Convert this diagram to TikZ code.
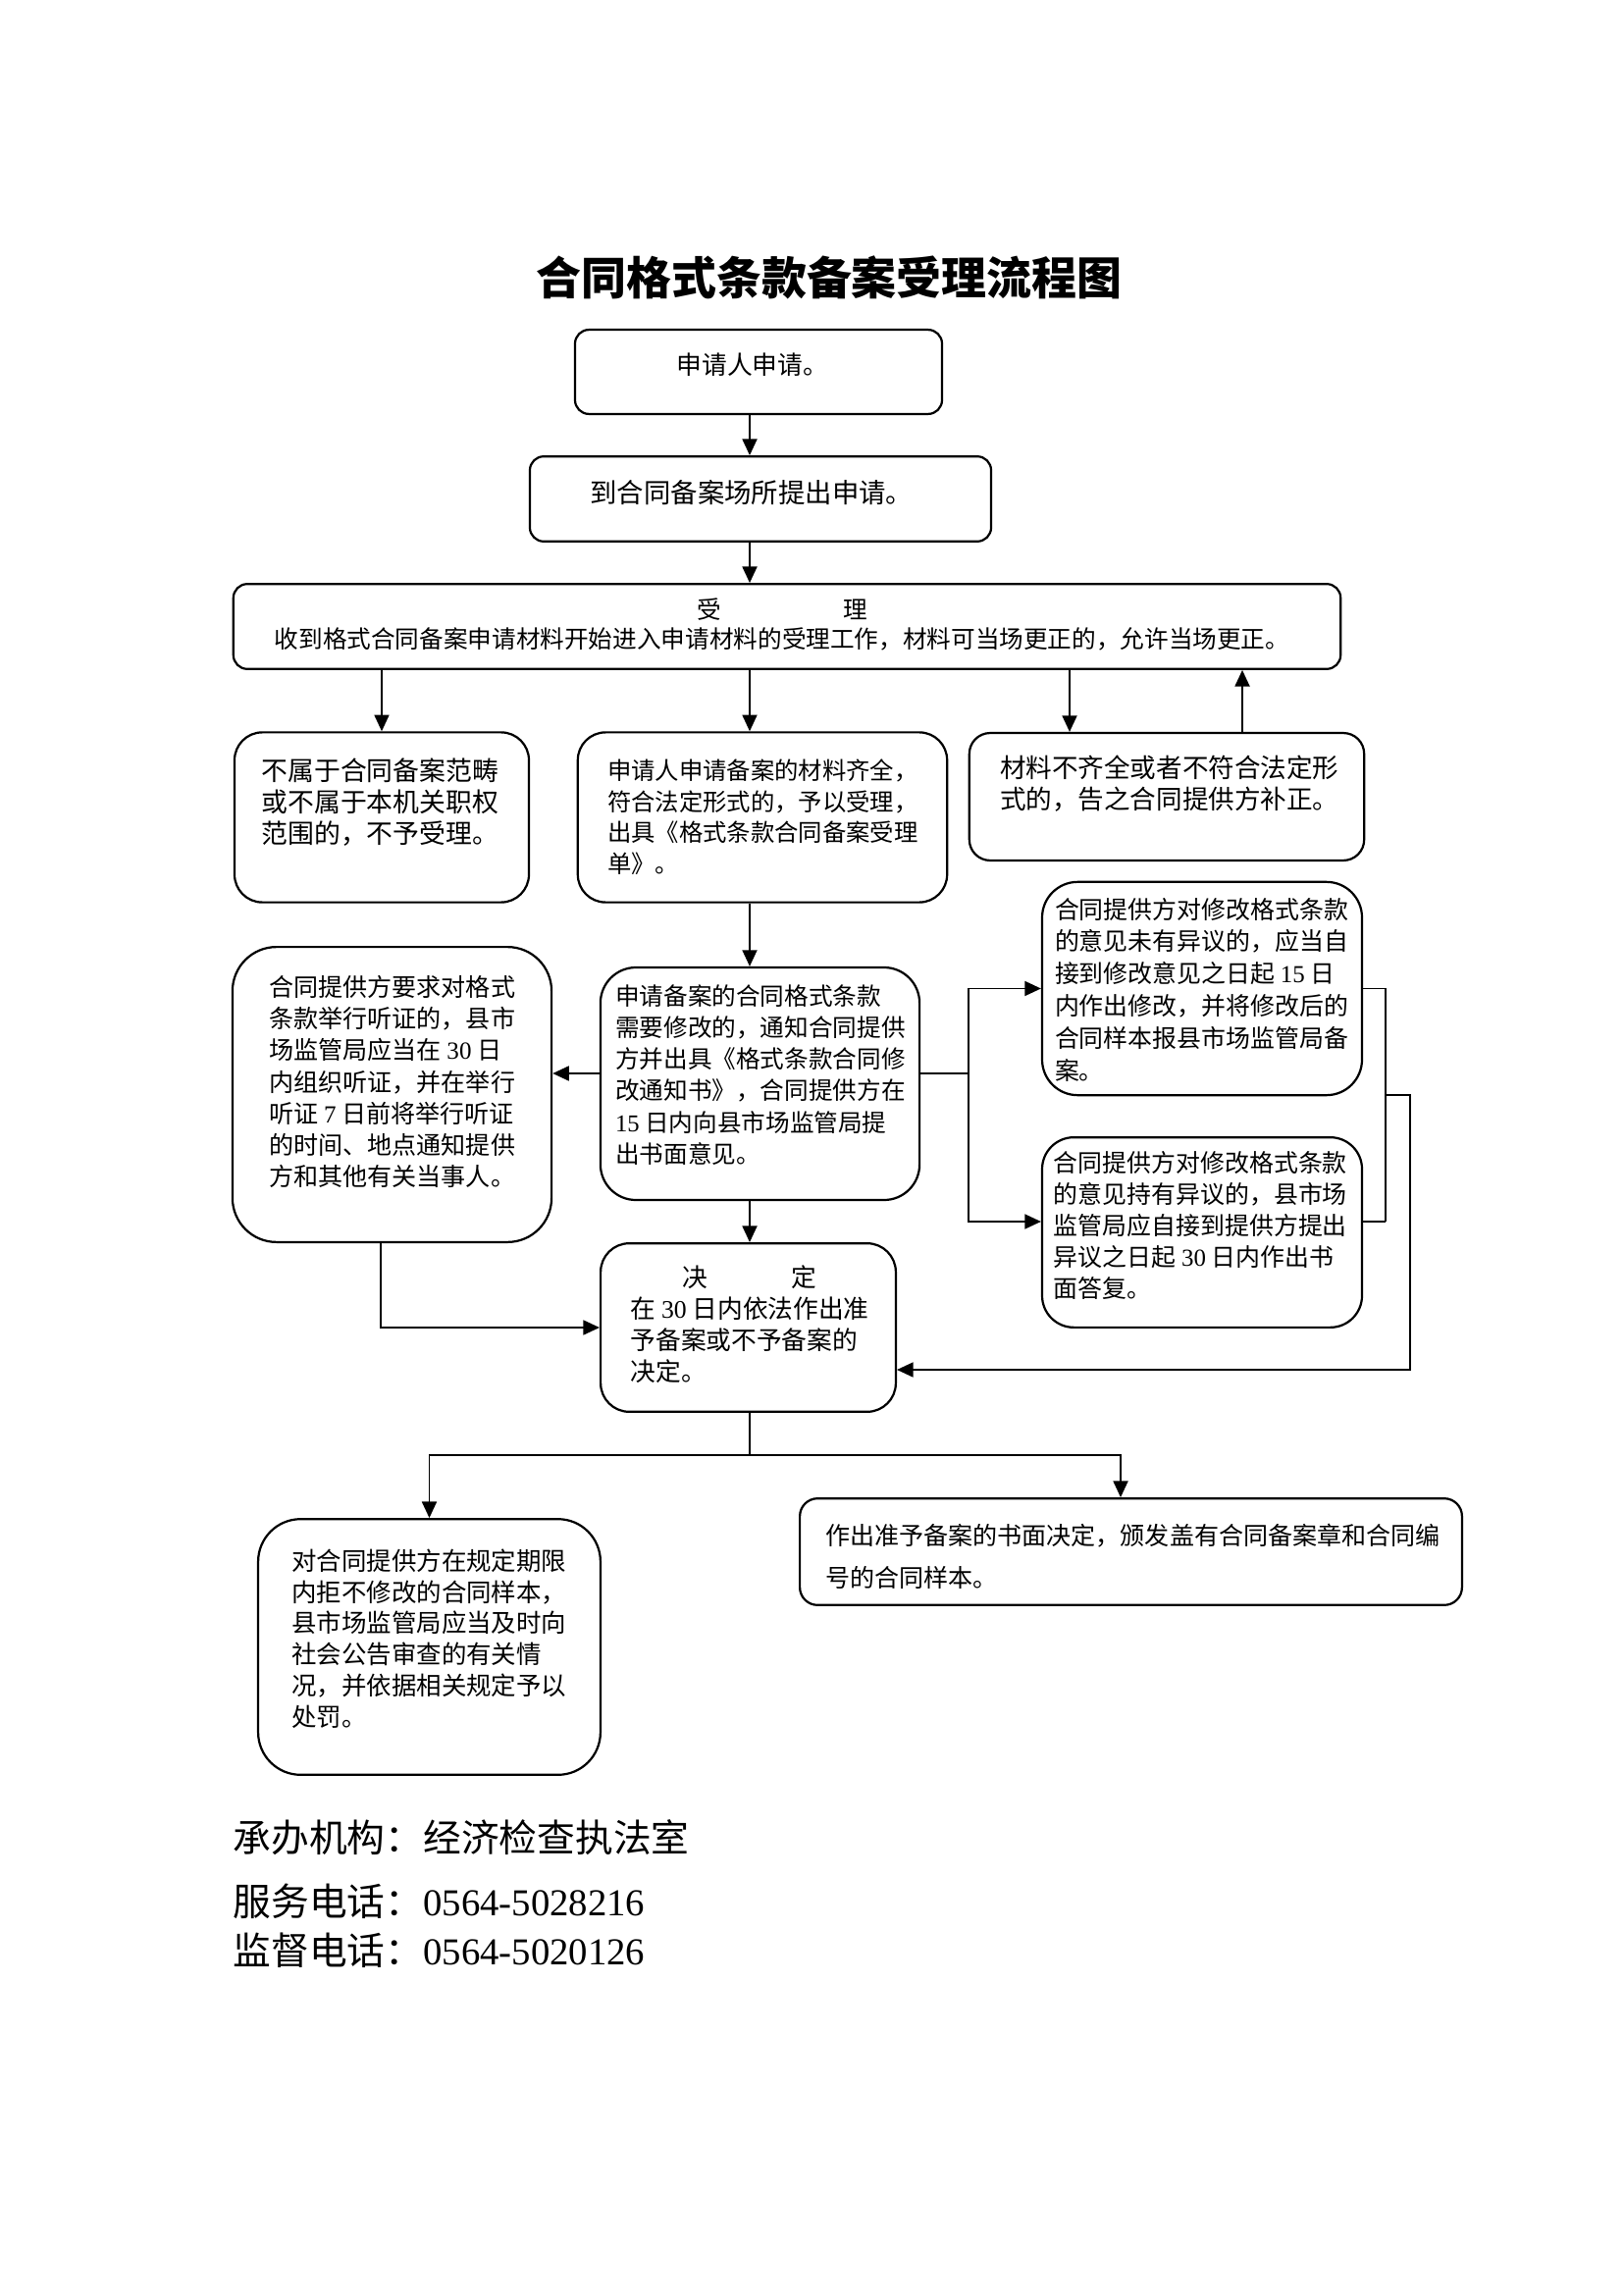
\documentclass[tikz,border=0pt]{standalone}
\usepackage{fontspec}
\setmainfont{Noto Sans CJK SC}
\newfontfamily\latfont{Liberation Serif}
\newcommand{\lat}[1]{{\latfont #1}}
\newcommand{\fsz}[2]{\fontsize{#1}{#2}\selectfont}
\usetikzlibrary{arrows.meta}

\begin{document}
\begin{tikzpicture}[x=0.127mm, y=-0.127mm,
  box/.style={draw, line width=0.8pt, rounded corners=#1, inner sep=0pt},
  txt/.style={inner sep=0pt, anchor=west, align=left},
  arr/.style={line width=0.7pt, -{Triangle[length=6pt,width=5.4pt]}},
  ln/.style={line width=0.7pt}]
  \useasboundingbox (0,0) rectangle (1654,2339);

  % Title
  \node[font=\fsz{16.6pt}{20pt}\bfseries] (title) at (845,283) {合同格式条款备案受理流程图};

  % Boxes
  \node[box=1.8mm, minimum width=47.5mm, minimum height=10.9mm] (apply) at (773,379) {};
  \node[box=1.8mm, minimum width=59.7mm, minimum height=11mm] (submit) at (775,508.5) {};
  \node[box=1.8mm, minimum width=143.3mm, minimum height=11mm] (accept) at (802,638.5) {};
  \node[box=3.6mm, minimum width=38.1mm, minimum height=22mm] (reject) at (389,833) {};
  \node[box=3.6mm, minimum width=47.8mm, minimum height=22mm] (admit) at (777,833) {};
  \node[box=2.7mm, minimum width=51.1mm, minimum height=16.5mm] (amend) at (1189,812) {};
  \node[box=5.7mm, minimum width=41.3mm, minimum height=38.2mm] (hearing) at (399.5,1115.5) {};
  \node[box=4.6mm, minimum width=41.3mm, minimum height=30.1mm] (modify) at (774.5,1104.5) {};
  \node[box=4.6mm, minimum width=41.4mm, minimum height=27.6mm] (agree) at (1225,1007.5) {};
  \node[box=4.1mm, minimum width=41.4mm, minimum height=24.6mm] (object) at (1225,1256) {};
  \node[box=3.7mm, minimum width=38.2mm, minimum height=21.8mm] (decide) at (762.5,1353) {};
  \node[box=5.5mm, minimum width=44.3mm, minimum height=33.1mm] (penalty) at (437.5,1678.5) {};
  \node[box=2.3mm, minimum width=85.7mm, minimum height=13.8mm] (grant) at (1152.5,1581.5) {};

  % Texts
  \node[txt, font=\fsz{9.3pt}{11.6pt}] (applyT) at (689,372) {申请人申请。};
  \node[txt, font=\fsz{9.9pt}{11.6pt}] (submitT) at (601,501.7) {到合同备案场所提出申请。};
  \node[inner sep=0pt, align=center, font=\fsz{8.9pt}{10.8pt}] (acceptT) at (797,636.7)
    {受\hspace{45pt}理\\收到格式合同备案申请材料开始进入申请材料的受理工作，材料可当场更正的，允许当场更正。};
  \node[txt, font=\fsz{9.7pt}{11.7pt}] (rejectT) at (266,817.5)
    {不属于合同备案范畴\\或不属于本机关职权\\范围的，不予受理。};
  \node[txt, font=\fsz{8.8pt}{11.4pt}] (admitT) at (618.5,832.5)
    {申请人申请备案的材料齐全，\\符合法定形式的，予以受理，\\出具《格式条款合同备案受理\\单》。};
  \node[txt, font=\fsz{9.6pt}{11.5pt}] (amendT) at (1018.5,799)
    {材料不齐全或者不符合法定形\\式的，告之合同提供方补正。};
  \node[txt, font=\fsz{9.06pt}{11.6pt}] (hearingT) at (273.8,1102.5)
    {合同提供方要求对格式\\条款举行听证的，县市\\场监管局应当在 \lat{30} 日\\内组织听证，并在举行\\听证 \lat{7} 日前将举行听证\\的时间、地点通知提供\\方和其他有关当事人。};
  \node[txt, font=\fsz{8.9pt}{11.6pt}] (modifyT) at (626.6,1095.5)
    {申请备案的合同格式条款\\需要修改的，通知合同提供\\方并出具《格式条款合同修\\改通知书》，合同提供方在\\\lat{15} 日内向县市场监管局提\\出书面意见。};
  \node[txt, font=\fsz{9pt}{11.9pt}] (agreeT) at (1074.5,1008.8)
    {合同提供方对修改格式条款\\的意见未有异议的，应当自\\接到修改意见之日起 \lat{15} 日\\内作出修改，并将修改后的\\合同样本报县市场监管局备\\案。};
  \node[txt, font=\fsz{9pt}{11.5pt}] (objectT) at (1073.4,1248.9)
    {合同提供方对修改格式条款\\的意见持有异议的，县市场\\监管局应自接到提供方提出\\异议之日起 \lat{30} 日内作出书\\面答复。};
  \node[txt, font=\fsz{9.3pt}{11.6pt}] (decideT) at (642,1350)
    {\hspace*{19pt}决\hspace{31pt}定\\在 \lat{30} 日内依法作出准\\予备案或不予备案的\\决定。};
  \node[txt, font=\fsz{9.2pt}{11.5pt}] (penaltyT) at (296.7,1670)
    {对合同提供方在规定期限\\内拒不修改的合同样本，\\县市场监管局应当及时向\\社会公告审查的有关情\\况，并依据相关规定予以\\处罚。};
  \node[txt, font=\fsz{9.05pt}{15.5pt}] (grantT) at (840.8,1586.5)
    {作出准予备案的书面决定，颁发盖有合同备案章和合同编\\号的合同样本。};

  % Footer
  \node[txt, font=\fsz{14pt}{17pt}] (org) at (237,1873) {承办机构：经济检查执法室};
  \node[txt, font=\fsz{14pt}{17pt}] (tel1) at (237,1938) {服务电话：\lat{0564-5028216}};
  \node[txt, font=\fsz{14pt}{17pt}] (tel2) at (237,1988) {监督电话：\lat{0564-5020126}};

  % Junction points
  \coordinate (colx) at (764,0);
  \coordinate (d3in) at (1090,0);
  \coordinate (d3out) at (1266,0);
  \coordinate (split) at (987,1094);
  \coordinate (yobj) at (0,1245);
  \coordinate (objr) at (1412,1245);
  \coordinate (rj) at (1412,1116);
  \coordinate (loopc) at (1437,1396);
  \coordinate (ej) at (388,1353);
  \coordinate (bl) at (439,1483);
  \coordinate (br) at (1142,1483);

  % Main column
  \draw[arr] (apply.south -| colx) -- (submit.north -| colx);
  \draw[arr] (submit.south -| colx) -- (accept.north -| colx);
  \draw[arr] (accept.south -| reject.north) -- (reject.north);
  \draw[arr] (accept.south -| colx) -- (admit.north -| colx);
  \draw[arr] (accept.south -| d3in) -- (amend.north -| d3in);
  \draw[arr] (amend.north -| d3out) -- (accept.south -| d3out);
  \draw[arr] (admit.south -| colx) -- (modify.north -| colx);
  \draw[arr] (modify.west |- split) -- (hearing.east |- split);
  \draw[arr] (modify.south -| colx) -- (decide.north -| colx);

  % Branch to the two replies
  \draw[ln] (modify.east |- split) -- (split);
  \draw[arr] (split) |- (agree.west);
  \draw[arr] (split) |- (object.west |- yobj);
  \draw[ln] (agree.east) -| (objr);
  \draw[ln] (object.east |- objr) -- (objr);
  \draw[arr] (rj) -| (loopc) -- (decide.east |- loopc);

  % Hearing back to decision
  \draw[arr] (hearing.south -| ej) |- (decide.west |- ej);

  % Decision outcomes
  \draw[ln] (decide.south -| colx) -- (colx |- bl);
  \draw[arr] (colx |- bl) -| (penalty.north);
  \draw[arr] (colx |- bl) -| (grant.north -| br);
\end{tikzpicture}
\end{document}
